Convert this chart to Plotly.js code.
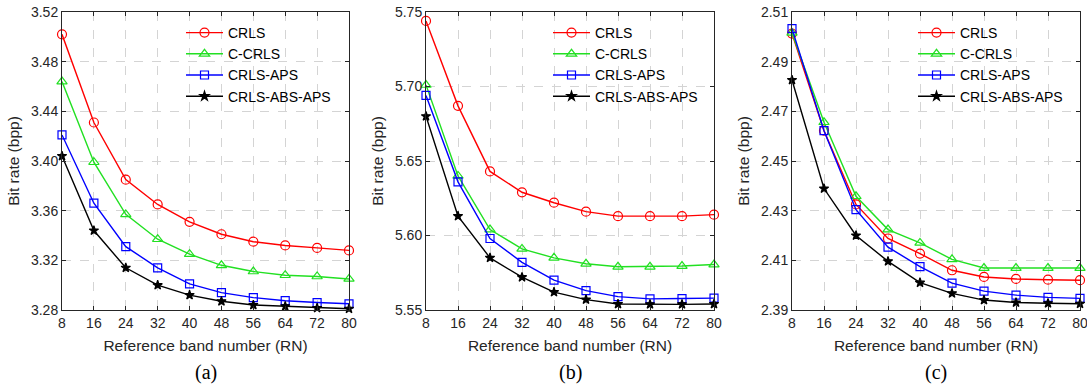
<!DOCTYPE html>
<html>
<head>
<meta charset="utf-8">
<script src="https://cdn.plot.ly/plotly-3.0.1.min.js"></script>
<style>html,body{margin:0;padding:0;background:#fff;}#chart{width:1087px;height:389px;}</style>
</head>
<body>
<div id="chart"></div>
<script>
// Data
const rn = [8, 16, 24, 32, 40, 48, 56, 64, 72, 80];
const seriesNames = ["CRLS", "C-CRLS", "CRLS-APS", "CRLS-ABS-APS"];

// (a)
const a_CRLS        = [3.502, 3.431, 3.385, 3.365, 3.351, 3.341, 3.335, 3.332, 3.330, 3.328];
const a_CCRLS       = [3.464, 3.399, 3.357, 3.337, 3.325, 3.316, 3.311, 3.308, 3.307, 3.305];
const a_CRLSAPS     = [3.421, 3.366, 3.331, 3.314, 3.301, 3.294, 3.290, 3.2875, 3.286, 3.285];
const a_CRLSABSAPS  = [3.404, 3.344, 3.314, 3.300, 3.292, 3.287, 3.284, 3.283, 3.2816, 3.281];

// (b)
const b_CRLS        = [5.744, 5.687, 5.643, 5.629, 5.622, 5.616, 5.613, 5.613, 5.613, 5.614];
const b_CCRLS       = [5.701, 5.640, 5.604, 5.591, 5.585, 5.581, 5.579, 5.579, 5.5795, 5.5805];
const b_CRLSAPS     = [5.694, 5.636, 5.598, 5.582, 5.570, 5.563, 5.559, 5.5575, 5.5577, 5.558];
const b_CRLSABSAPS  = [5.680, 5.613, 5.585, 5.572, 5.562, 5.557, 5.554, 5.5538, 5.5538, 5.554];

// (c)
const c_CRLS        = [2.5013, 2.4622, 2.4325, 2.4188, 2.4127, 2.4060, 2.4033, 2.4025, 2.4022, 2.4020];
const c_CCRLS       = [2.5016, 2.4656, 2.4358, 2.4224, 2.4170, 2.4104, 2.4069, 2.4069, 2.4069, 2.4069];
const c_CRLSAPS     = [2.5033, 2.4622, 2.4304, 2.4153, 2.4075, 2.4008, 2.3976, 2.3960, 2.3951, 2.3947];
const c_CRLSABSAPS  = [2.4826, 2.4389, 2.4200, 2.4096, 2.4010, 2.3967, 2.3940, 2.3930, 2.3927, 2.3925];

const yTicksA = [3.28, 3.32, 3.36, 3.40, 3.44, 3.48, 3.52];
const yTicksB = [5.55, 5.60, 5.65, 5.70, 5.75];
const yTicksC = [2.39, 2.41, 2.43, 2.45, 2.47, 2.49, 2.51];
const panelLabels = ["(a)", "(b)", "(c)"];

const colors = ["#ff0000", "#22e022", "#0000ff", "#000000"];
const symbols = ["circle-open", "triangle-up-open", "square-open", "star"];
const msize = [9, 9, 8, 7];

const panels = [
  {ys: [a_CRLS, a_CCRLS, a_CRLSAPS, a_CRLSABSAPS], ticks: yTicksA, fmt: ".2f"},
  {ys: [b_CRLS, b_CCRLS, b_CRLSAPS, b_CRLSABSAPS], ticks: yTicksB, fmt: ".2f"},
  {ys: [c_CRLS, c_CCRLS, c_CRLSAPS, c_CRLSABSAPS], ticks: yTicksC, fmt: ".2f"}
];

const W = 1087, H = 389;
const xDom = [[62, 349], [426, 714], [792, 1080]];
const yDom = [1 - 310 / H, 1 - 12 / H];
const legX = [181, 548, 913];

const traces = [];
const layout = {
  width: W, height: H,
  margin: {l: 0, r: 0, t: 0, b: 0},
  paper_bgcolor: "#fff", plot_bgcolor: "#fff",
  font: {family: "Liberation Sans, Arial, sans-serif", size: 14, color: "#262626"},
  annotations: []
};

panels.forEach((p, i) => {
  const sfx = i === 0 ? "" : String(i + 1);
  const legName = "legend" + sfx;
  p.ys.forEach((y, k) => {
    traces.push({
      x: rn, y: y, name: seriesNames[k], type: "scatter", mode: "lines+markers",
      xaxis: "x" + sfx, yaxis: "y" + sfx, legend: legName, cliponaxis: false,
      line: {color: colors[k], width: 1.4},
      marker: {symbol: symbols[k], size: msize[k], color: colors[k], line: {color: colors[k], width: 1.2}}
    });
  });
  const axCommon = {
    showline: true, linecolor: "#262626", linewidth: 1, mirror: "ticks",
    ticks: "inside", ticklen: 4, tickcolor: "#262626",
    showgrid: true, gridcolor: "#d4d4d4", griddash: "dash", gridwidth: 1,
    zeroline: false, tickfont: {size: 14, color: "#262626"}, ticklabeloverflow: "allow"
  };
  layout["xaxis" + sfx] = Object.assign({}, axCommon, {
    domain: [xDom[i][0] / W, xDom[i][1] / W], anchor: "y" + sfx,
    range: [8, 80], tickvals: rn, ticktext: rn.map(String),
    title: {text: "Reference band number (RN)", font: {size: 15.5, color: "#262626"}, standoff: 10}
  });
  layout["yaxis" + sfx] = Object.assign({}, axCommon, {
    domain: yDom, anchor: "x" + sfx,
    range: [p.ticks[0], p.ticks[p.ticks.length - 1]],
    tickvals: p.ticks, tickformat: p.fmt,
    title: {text: "Bit rate (bpp)", font: {size: 15.5, color: "#262626"}, standoff: 7}
  });
  layout[legName] = {
    x: legX[i] / W, xref: "paper", xanchor: "left",
    y: 1 - 17 / H, yref: "paper", yanchor: "top",
    bgcolor: "rgba(255,255,255,0)", borderwidth: 0, itemwidth: 37,
    font: {size: 14, color: "#000"}, tracegroupgap: 0
  };
  layout.annotations.push({
    text: panelLabels[i], xref: "paper", yref: "paper",
    x: ((xDom[i][0] + xDom[i][1]) / 2) / W, y: 1 - 372 / H,
    xanchor: "center", yanchor: "middle", showarrow: false,
    font: {family: "Liberation Serif, Times New Roman, serif", size: 20, color: "#000"}
  });
});

Plotly.newPlot("chart", traces, layout, {displayModeBar: false, staticPlot: true});
</script>
</body>
</html>
